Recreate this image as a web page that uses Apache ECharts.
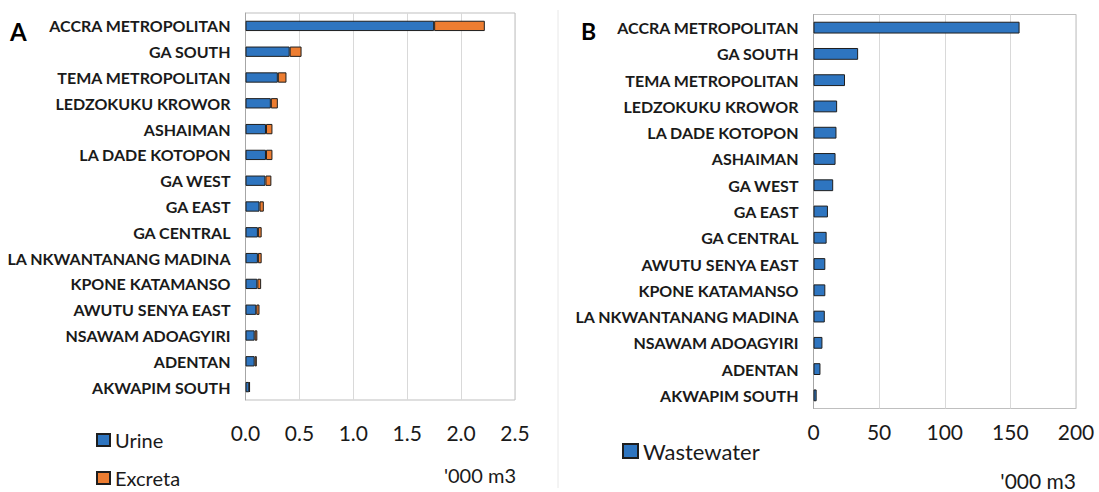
<!DOCTYPE html>
<html>
<head>
<meta charset="utf-8">
<script src="https://cdn.jsdelivr.net/npm/echarts@6/dist/echarts.min.js"></script>
<style>
html,body{margin:0;padding:0;background:#fff;}
#chart{width:1099px;height:492px;}
</style>
</head>
<body>
<div id="chart"></div>
<script>
// Panel A data ('000 m3)
var catsA = ['ACCRA METROPOLITAN','GA SOUTH','TEMA METROPOLITAN','LEDZOKUKU KROWOR','ASHAIMAN','LA DADE KOTOPON','GA WEST','GA EAST','GA CENTRAL','LA NKWANTANANG MADINA','KPONE KATAMANSO','AWUTU SENYA EAST','NSAWAM ADOAGYIRI','ADENTAN','AKWAPIM SOUTH'];
var urine   = [1.75, 0.41, 0.30, 0.235, 0.19, 0.19, 0.185, 0.13, 0.115, 0.115, 0.11, 0.10, 0.085, 0.085, 0.035];
var excreta = [0.47, 0.11, 0.08, 0.065, 0.06, 0.06, 0.055, 0.04, 0.035, 0.035, 0.035, 0.03, 0.025, 0.02, 0.005];
var ticksA = [0, 0.5, 1.0, 1.5, 2.0, 2.5];

// Panel B data ('000 m3)
var catsB = ['ACCRA METROPOLITAN','GA SOUTH','TEMA METROPOLITAN','LEDZOKUKU KROWOR','LA DADE KOTOPON','ASHAIMAN','GA WEST','GA EAST','GA CENTRAL','AWUTU SENYA EAST','KPONE KATAMANSO','LA NKWANTANANG MADINA','NSAWAM ADOAGYIRI','ADENTAN','AKWAPIM SOUTH'];
var wastewater = [157, 34, 24, 18, 17.5, 16.8, 15, 11, 10, 9, 9, 8.6, 6.8, 5.3, 2.4];
var ticksB = [0, 50, 100, 150, 200];

var FONT = 'Lato';
var BLUE = '#2e75c0', ORANGE = '#ed7d31', EDGE = '#1e1e1e';
var chart = echarts.init(document.getElementById('chart'), null, {renderer: 'svg'});

function catAxis(idx, cats) {
  return {
    type: 'category', gridIndex: idx, data: cats, inverse: true,
    axisLine: {show: true, lineStyle: {color: '#a6a6a6', width: 1}},
    axisTick: {show: false},
    axisLabel: {margin: 15, color: '#1a1a1a', fontFamily: FONT, fontWeight: 'bold', fontSize: 16}
  };
}
function valAxis(idx, max, interval, margin, fmt, fs) {
  return {
    type: 'value', gridIndex: idx, min: 0, max: max, interval: interval,
    axisLine: {show: false}, axisTick: {show: false},
    splitLine: {show: true, lineStyle: {color: '#d9d9d9', width: 1}},
    axisLabel: {margin: margin, color: '#1a1a1a', fontFamily: FONT, fontSize: fs, formatter: fmt}
  };
}
function legendItem(name, left, top, w, h, fs) {
  return {data: [name], orient: 'vertical', left: left, top: top, itemWidth: w, itemHeight: h,
    icon: 'rect', textStyle: {fontFamily: FONT, fontSize: fs, color: '#1a1a1a'}};
}

var option = {
  animation: false,
  backgroundColor: '#fff',
  grid: [
    {left: 245.5, top: 13, width: 269.5, height: 387, show: true, borderColor: '#bfbfbf', borderWidth: 1, containLabel: false},
    {left: 813.5, top: 14.5, width: 262.5, height: 394, show: true, borderColor: '#bfbfbf', borderWidth: 1, containLabel: false}
  ],
  xAxis: [
    valAxis(0, ticksA[ticksA.length-1], ticksA[1]-ticksA[0], 22, function(v){return v.toFixed(1);}, 21),
    valAxis(1, ticksB[ticksB.length-1], ticksB[1]-ticksB[0], 12, function(v){return String(v);}, 21)
  ],
  yAxis: [catAxis(0, catsA), catAxis(1, catsB)],
  legend: [
    legendItem('Urine', 91, 425, 13, 12, 20),
    legendItem('Excreta', 91, 463, 13, 12, 20),
    legendItem('Wastewater', 617, 435, 15, 14, 22)
  ],
  series: [
    {name: 'Urine', type: 'bar', stack: 'a', xAxisIndex: 0, yAxisIndex: 0, data: urine, barWidth: '40%',
     itemStyle: {color: BLUE, borderColor: EDGE, borderWidth: 1}},
    {name: 'Excreta', type: 'bar', stack: 'a', xAxisIndex: 0, yAxisIndex: 0, data: excreta, barWidth: '40%',
     itemStyle: {color: ORANGE, borderColor: EDGE, borderWidth: 1}},
    {name: 'Wastewater', type: 'bar', xAxisIndex: 1, yAxisIndex: 1, data: wastewater, barWidth: '45%',
     itemStyle: {color: BLUE, borderColor: EDGE, borderWidth: 1}}
  ],
  graphic: [
    {type: 'line', shape: {x1: 558, y1: 10, x2: 558, y2: 488}, style: {stroke: '#e8e8e8', lineWidth: 1}},
    {type: 'text', x: 10, y: 31, style: {text: 'A', font: 'bold 24px ' + FONT, fill: '#000', textVerticalAlign: 'middle'}},
    {type: 'text', x: 581, y: 31, style: {text: 'B', font: 'bold 23px ' + FONT, fill: '#000', textVerticalAlign: 'middle'}},
    {type: 'text', x: 516, y: 475, style: {text: "'000 m3", font: '20px ' + FONT, fill: '#1a1a1a', textAlign: 'right', textVerticalAlign: 'middle'}},
    {type: 'text', x: 1076, y: 480, style: {text: "'000 m3", font: '21px ' + FONT, fill: '#1a1a1a', textAlign: 'right', textVerticalAlign: 'middle'}}
  ]
};
chart.setOption(option);
</script>
</body>
</html>
